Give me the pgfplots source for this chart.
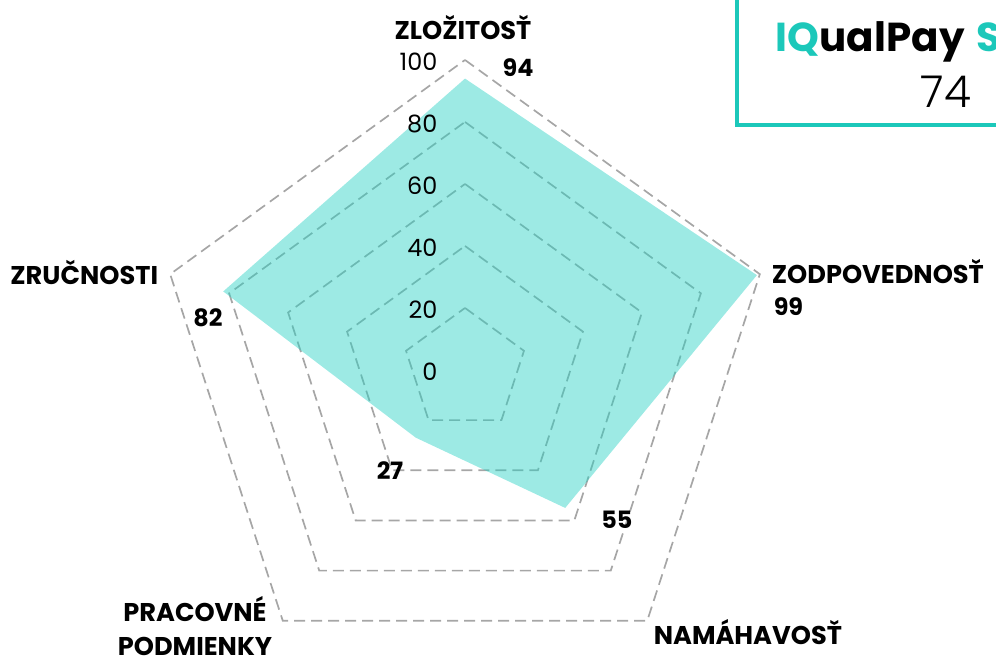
\documentclass[border=0pt]{standalone}
\usepackage{pgfplots}
\pgfplotsset{compat=1.18}
\usepackage{fontspec}
\setmainfont{Poppins}
\newfontfamily\poplight{Poppins}[UprightFont={* Light}]
\definecolor{tealc}{RGB}{38,209,195}
\definecolor{boxc}{RGB}{28,200,186}
\definecolor{gridc}{RGB}{166,166,166}
\begin{document}
\begin{tikzpicture}
\path[use as bounding box, clip] (0,0) rectangle (99.6mm,65.9mm);
\begin{axis}[at={(0,0)}, anchor=south west, scale only axis,
  width=99.6mm, height=65.9mm,
  xmin=-150, xmax=171.29, ymin=-93.23, ymax=119.35,
  hide axis, clip=false]
% grid pentagons
\addplot[gridc, line width=0.17mm, dash pattern=on 1.1mm off 0.6mm, line join=miter, data cs=polar, mark=none] coordinates {(90,20) (18,20) (-54,20) (-126,20) (162,20) (90,20)};
\addplot[gridc, line width=0.17mm, dash pattern=on 1.1mm off 0.6mm, line join=miter, data cs=polar, mark=none] coordinates {(90,40) (18,40) (-54,40) (-126,40) (162,40) (90,40)};
\addplot[gridc, line width=0.17mm, dash pattern=on 1.1mm off 0.6mm, line join=miter, data cs=polar, mark=none] coordinates {(90,60) (18,60) (-54,60) (-126,60) (162,60) (90,60)};
\addplot[gridc, line width=0.17mm, dash pattern=on 1.1mm off 0.6mm, line join=miter, data cs=polar, mark=none] coordinates {(90,80) (18,80) (-54,80) (-126,80) (162,80) (90,80)};
\addplot[gridc, line width=0.17mm, dash pattern=on 1.1mm off 0.6mm, line join=miter, data cs=polar, mark=none] coordinates {(90,100) (18,100) (-54,100) (-126,100) (162,100) (90,100)};
% data
\addplot[draw=none, fill=tealc, fill opacity=0.45, data cs=polar, mark=none] coordinates {(90,94) (18,99) (-54,55) (-126,27) (162,82) (90,94)};
% tick labels
\node[anchor=east, inner sep=0pt, font=\fontsize{6.8pt}{7pt}\selectfont] at (axis cs:-8.7,99.4) {100};
\node[anchor=east, inner sep=0pt, font=\fontsize{6.8pt}{7pt}\selectfont] at (axis cs:-8.7,79.4) {80};
\node[anchor=east, inner sep=0pt, font=\fontsize{6.8pt}{7pt}\selectfont] at (axis cs:-8.7,59.4) {60};
\node[anchor=east, inner sep=0pt, font=\fontsize{6.8pt}{7pt}\selectfont] at (axis cs:-8.7,39.4) {40};
\node[anchor=east, inner sep=0pt, font=\fontsize{6.8pt}{7pt}\selectfont] at (axis cs:-8.7,19.4) {20};
\node[anchor=east, inner sep=0pt, font=\fontsize{6.8pt}{7pt}\selectfont] at (axis cs:-8.7,-0.6) {0};
% category labels
\node[font=\bfseries\fontsize{7.3pt}{8pt}\selectfont] at (axis cs:-0.65,110.6) {ZLOŽITOSŤ};
\node[font=\bfseries\fontsize{6.8pt}{7pt}\selectfont] at (axis cs:17.1,97.4) {94};
\node[anchor=west, font=\bfseries\fontsize{7.3pt}{8pt}\selectfont] at (axis cs:95.0,31.9) {ZODPOVEDNOSŤ};
\node[anchor=west, font=\bfseries\fontsize{6.8pt}{7pt}\selectfont] at (axis cs:95.6,20.6) {99};
\node[anchor=west, font=\bfseries\fontsize{7.3pt}{8pt}\selectfont] at (axis cs:56.9,-84.5) {NAMÁHAVOSŤ};
\node[font=\bfseries\fontsize{6.8pt}{7pt}\selectfont] at (axis cs:49.0,-48.4) {55};
\node[align=center, font=\bfseries\fontsize{7.3pt}{3.35mm}\selectfont] at (axis cs:-87.1,-82.6) {PRACOVNÉ\\PODMIENKY};
\node[font=\bfseries\fontsize{6.8pt}{7pt}\selectfont] at (axis cs:-24.2,-32.3) {27};
\node[anchor=east, font=\bfseries\fontsize{7.3pt}{8pt}\selectfont] at (axis cs:-95.0,31.6) {ZRUČNOSTI};
\node[font=\bfseries\fontsize{6.8pt}{7pt}\selectfont] at (axis cs:-82.9,16.8) {82};
% box
\draw[boxc, line width=0.4mm] (axis cs:87.7,130) -- (axis cs:87.7,79) -- (axis cs:190,79);
\node[anchor=west, font=\bfseries\fontsize{11.5pt}{14pt}\selectfont] at (axis cs:96.3,105.8) {\textcolor{boxc}{IQ}ualPay\hspace{0.3em}\textcolor{boxc}{S}};
\node[font=\poplight\fontsize{12.5pt}{14pt}\selectfont] at (axis cs:155.2,89.7) {74};
\end{axis}
\end{tikzpicture}
\end{document}
